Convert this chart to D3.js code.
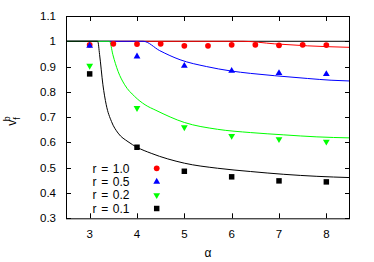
<!DOCTYPE html>
<html>
<head>
<meta charset="utf-8">
<script src="https://cdn.jsdelivr.net/npm/d3@7"></script>
<style>
  body { margin: 0; background: #fff; }
  text { font-family: "Liberation Sans", Arial, sans-serif; font-size: 11.5px; fill: #000; }
</style>
</head>
<body>
<script>
// measured points, alpha = 3..8
const alphaFull = [3, 3.5, 4, 4.5, 5, 5.5, 6, 6.5, 7, 7.5, 8];
const alphaInt = [3, 4, 5, 6, 7, 8];

const vR10 = [0.986, 0.990, 0.989, 0.990, 0.982, 0.982, 0.986, 0.986, 0.984, 0.986, 0.985];
const vR05 = [0.982, 0.940, 0.903, 0.883, 0.874, 0.870];
const vR02 = [0.903, 0.736, 0.660, 0.626, 0.613, 0.603];
const vR01 = [0.871, 0.581, 0.486, 0.464, 0.448, 0.444];

// theory curves as [alpha, v]
const curveR10 = [[2.5, 1], [6.24, 1], [6.9, 0.990], [7.6, 0.982], [8.5, 0.976]];
const curveR05 = [[2.5, 1], [4.13, 1], [4.48, 0.963], [4.91, 0.927], [5.47, 0.900], [5.97, 0.883],
  [6.4, 0.873], [6.9, 0.864], [7.6, 0.853], [8.1, 0.846], [8.5, 0.843]];
const curveR02 = [[2.5, 1], [3.42, 1], [3.49, 0.947], [3.60, 0.881], [3.74, 0.828], [3.95, 0.782],
  [4.17, 0.749], [4.4, 0.727], [5.0, 0.679], [5.7, 0.652], [6.4, 0.639], [7.1, 0.630], [7.8, 0.622], [8.5, 0.618]];
const curveR01 = [[2.5, 1], [3.17, 1], [3.21, 0.947], [3.28, 0.828], [3.35, 0.749], [3.46, 0.683],
  [3.60, 0.637], [3.81, 0.603], [4.0, 0.581], [4.3, 0.557], [5.0, 0.518], [5.7, 0.498], [6.4, 0.485],
  [7.1, 0.474], [7.8, 0.466], [8.5, 0.461]];

const xTicks = [3, 4, 5, 6, 7, 8];
const yTicks = [0.3, 0.4, 0.5, 0.6, 0.7, 0.8, 0.9, 1, 1.1];

const series = [
  { label: "r = 1.0", xs: alphaFull, vs: vR10, curve: curveR10, color: "#ff0000", shape: d3.symbolCircle, size: 26, rot: 0 },
  { label: "r = 0.5", xs: alphaInt, vs: vR05, curve: curveR05, color: "#0000ff", shape: d3.symbolTriangle, size: 20, rot: 0 },
  { label: "r = 0.2", xs: alphaInt, vs: vR02, curve: curveR02, color: "#00ff00", shape: d3.symbolTriangle, size: 20, rot: 180 },
  { label: "r = 0.1", xs: alphaInt, vs: vR01, curve: curveR01, color: "#000000", shape: d3.symbolSquare, size: 30, rot: 0 }
];

const width = 374, height = 262;
const m = { left: 66, right: 350, top: 16, bottom: 218.3 };

const x = d3.scaleLinear().domain([2.5, 8.5]).range([m.left, m.right]);
const y = d3.scaleLinear().domain([0.3, 1.1]).range([m.bottom, m.top]);

const svg = d3.select("body").append("svg")
  .attr("width", width)
  .attr("height", height);

// ticks on all four sides, pointing inward
const tickLen = 5;
const axes = svg.append("g").attr("stroke", "#000").attr("stroke-width", 1);
xTicks.forEach(t => {
  const px = Math.round(x(t)) + 0.5;
  axes.append("line").attr("x1", px).attr("x2", px).attr("y1", m.bottom).attr("y2", m.bottom - tickLen);
  axes.append("line").attr("x1", px).attr("x2", px).attr("y1", m.top).attr("y2", m.top + tickLen);
});
yTicks.forEach(t => {
  const py = Math.round(y(t)) + 0.5;
  axes.append("line").attr("x1", m.left).attr("x2", m.left + tickLen).attr("y1", py).attr("y2", py);
  axes.append("line").attr("x1", m.right).attr("x2", m.right - tickLen).attr("y1", py).attr("y2", py);
});

svg.selectAll(".xlab").data(xTicks).enter().append("text")
  .attr("x", d => x(d)).attr("y", 237.5)
  .attr("text-anchor", "middle")
  .text(d => d);

svg.selectAll(".ylab").data(yTicks).enter().append("text")
  .attr("x", 56).attr("y", d => y(d) + 4)
  .attr("text-anchor", "end")
  .text(d => d3.format("")(d));

svg.append("text").attr("x", 208).attr("y", 257)
  .attr("text-anchor", "middle").style("font-size", "12px").text("α");

const ylab = svg.append("text")
  .attr("transform", "translate(16,121) rotate(-90)")
  .attr("text-anchor", "middle");
ylab.append("tspan").style("font-size", "12px").text("v");
ylab.append("tspan").attr("dy", 4).style("font-size", "9px").text("f");
ylab.append("tspan").attr("dx", -4).attr("dy", -10).style("font-size", "9px").text("b");

const plot = svg.append("g");

// reference line at 1
plot.append("line")
  .attr("x1", m.left).attr("x2", m.right)
  .attr("y1", y(1)).attr("y2", y(1))
  .attr("stroke", "#000").attr("stroke-width", 1);

const line = d3.line().x(d => x(d[0])).y(d => y(d[1])).curve(d3.curveMonotoneX);

series.forEach(s => {
  plot.append("path")
    .attr("d", line(s.curve))
    .attr("fill", "none")
    .attr("stroke", s.color)
    .attr("stroke-width", 1);
});

const sym = s => d3.symbol().type(s.shape).size(s.size)();

series.forEach(s => {
  plot.selectAll(null).data(s.xs.map((a, i) => [a, s.vs[i]])).enter().append("path")
    .attr("d", sym(s))
    .attr("fill", s.color)
    .attr("transform", d => `translate(${x(d[0])},${y(d[1])}) rotate(${s.rot})`);
});

// legend
const legend = svg.append("g");
series.forEach((s, i) => {
  const ly = 168.3 + i * 13.4;
  legend.append("text").attr("x", 92.5).attr("y", ly + 4.3)
    .style("font-size", "12px").style("word-spacing", "1.3px")
    .text(s.label);
  legend.append("path")
    .attr("d", sym(s))
    .attr("fill", s.color)
    .attr("transform", `translate(156.7,${ly}) rotate(${s.rot})`);
});

// frame
svg.append("rect")
  .attr("x", m.left + 0.5).attr("y", m.top + 0.5)
  .attr("width", m.right - m.left - 1).attr("height", m.bottom - m.top)
  .attr("fill", "none").attr("stroke", "#000").attr("stroke-width", 1);
</script>
</body>
</html>
